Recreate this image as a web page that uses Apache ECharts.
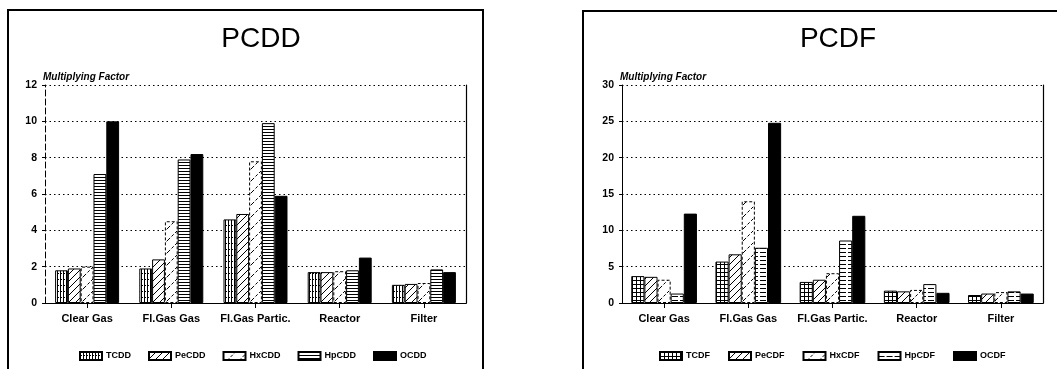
<!DOCTYPE html>
<html>
<head>
<meta charset="utf-8">
<script src="https://cdn.jsdelivr.net/npm/echarts@6/dist/echarts.min.js"></script>
<style>html,body{margin:0;padding:0;background:#fff;}#c{width:1057px;height:369px;}</style>
</head>
<body>
<div id="c"></div>
<script>
// ---- data ----
const categories = ['Clear Gas', 'Fl.Gas Gas', 'Fl.Gas Partic.', 'Reactor', 'Filter'];
const pcddNames = ['TCDD', 'PeCDD', 'HxCDD', 'HpCDD', 'OCDD'];
const pcdfNames = ['TCDF', 'PeCDF', 'HxCDF', 'HpCDF', 'OCDF'];
const tcdd  = [1.8, 1.9, 4.6, 1.7, 1.0];
const pecdd = [1.9, 2.4, 4.9, 1.7, 1.05];
const hxcdd = [2.0, 4.5, 7.8, 1.75, 1.1];
const hpcdd = [7.1, 7.9, 9.9, 1.8, 1.85];
const ocdd  = [10.0, 8.2, 5.9, 2.5, 1.7];
const tcdf  = [3.7, 5.7, 2.9, 1.7, 1.1];
const pecdf = [3.6, 6.7, 3.2, 1.6, 1.3];
const hxcdf = [3.2, 14.0, 4.1, 1.8, 1.5];
const hpcdf = [1.3, 7.6, 8.6, 2.6, 1.6];
const ocdf  = [12.3, 24.8, 12.0, 1.4, 1.3];
const pcddTicks = {min: 0, max: 12, interval: 2};
const pcdfTicks = {min: 0, max: 30, interval: 5};

// ---- patterns ----
function pat(w, h, draw) {
  const c = document.createElement('canvas');
  c.width = w; c.height = h;
  const g = c.getContext('2d');
  g.fillStyle = '#fff'; g.fillRect(0, 0, w, h);
  g.strokeStyle = '#000'; g.lineWidth = 1;
  draw(g, w, h);
  return {image: c, repeat: 'repeat'};
}
function line(g, x1, y1, x2, y2) { g.beginPath(); g.moveTo(x1, y1); g.lineTo(x2, y2); g.stroke(); }
function diag(g, w, h) { line(g, 0, h, w, 0); line(g, -2, 2, 2, -2); line(g, w - 2, h + 2, w + 2, h - 2); }

const pVert = pat(3, 6, (g, w, h) => { line(g, 0.5, 0, 0.5, h); g.fillStyle = '#000'; g.fillRect(1, 3, 1, 1); });
const pGrid = pat(4, 4, (g, w, h) => { line(g, 0.5, 0, 0.5, h); line(g, 0, 0.5, w, 0.5); });
const pDiag = pat(7, 7, (g, w, h) => { diag(g, w, h); });
const pDiagSparse = pat(12, 12, (g, w, h) => { g.setLineDash([3, 2]); diag(g, w, h); });
const pHoriz = pat(6, 3, (g, w, h) => { line(g, 0, 0.5, w, 0.5); });
const pHorizSparse = pat(8, 4, (g, w, h) => { line(g, 0, 0.5, 6, 0.5); });

const FONT = "'Liberation Sans', Arial, Helvetica, sans-serif";

function mkGridAxes(gi, ticks) {
  return {
    x: [{
      type: 'category', gridIndex: gi, data: categories,
      axisLine: {lineStyle: {color: '#000', width: 1}},
      axisTick: {show: true, alignWithLabel: true, length: 5, lineStyle: {color: '#000'}},
      axisLabel: {interval: 0, color: '#000', fontFamily: FONT, fontWeight: 'bold', fontSize: 11, margin: 10}
    }, {
      type: 'category', gridIndex: gi, position: 'top', data: categories,
      axisLine: {lineStyle: {color: '#000', width: 1, type: [10, 5]}},
      axisTick: {show: false}, axisLabel: {show: false}
    }],
    y: [{
      type: 'value', gridIndex: gi, min: ticks.min, max: ticks.max, interval: ticks.interval,
      name: 'Multiplying Factor', nameLocation: 'end', nameGap: 3,
      nameTextStyle: {align: 'left', verticalAlign: 'bottom', fontStyle: 'italic', fontWeight: 'bold',
        fontSize: 10, color: '#000', fontFamily: FONT, padding: [0, 0, 0, -2]},
      axisLine: {show: true, lineStyle: {color: '#000', width: 1, type: gi === 0 ? [6, 3] : 'solid'}},
      axisTick: {show: true, length: 3, lineStyle: {color: '#000'}},
      axisLabel: {color: '#000', fontFamily: FONT, fontWeight: 'bold', fontSize: 10.5, margin: 8},
      splitLine: {show: true, lineStyle: {color: '#000', width: 1, type: [1.5, 3]}}
    }, {
      type: 'value', gridIndex: gi, position: 'right',
      axisLine: {show: true, lineStyle: {color: '#000', width: 1.2}},
      axisTick: {show: false}, axisLabel: {show: false}, splitLine: {show: false}
    }]
  };
}
const a0 = mkGridAxes(0, pcddTicks);
const a1 = mkGridAxes(1, pcdfTicks);

const pcddStyles = [
  {color: pVert}, {color: pDiag}, {color: pDiagSparse, borderType: [3, 2]}, {color: pHoriz}, {color: '#000'}
];
const pcdfStyles = [
  {color: pGrid}, {color: pDiag}, {color: pDiagSparse, borderType: [3, 2]}, {color: pHorizSparse}, {color: '#000'}
];
const pcddData = [tcdd, pecdd, hxcdd, hpcdd, ocdd];
const pcdfData = [tcdf, pecdf, hxcdf, hpcdf, ocdf];

const series = [];
pcddNames.forEach((n, i) => series.push({
  type: 'bar', name: n, xAxisIndex: 0, yAxisIndex: 0, data: pcddData[i],
  barGap: '0%', barCategoryGap: '24%',
  itemStyle: Object.assign({borderColor: '#000', borderWidth: 1}, pcddStyles[i]),
  emphasis: {disabled: true}
}));
pcdfNames.forEach((n, i) => series.push({
  type: 'bar', name: n, xAxisIndex: 2, yAxisIndex: 2, data: pcdfData[i],
  barGap: '0%', barCategoryGap: '22%',
  itemStyle: Object.assign({borderColor: '#000', borderWidth: 1}, pcdfStyles[i]),
  emphasis: {disabled: true}
}));

const legendBase = {
  top: 346, itemWidth: 22, itemHeight: 8, icon: 'rect', itemGap: 17,
  textStyle: {color: '#000', fontFamily: FONT, fontWeight: 'bold', fontSize: 9, padding: [0, 0, 0, -1]}
};

const chart = echarts.init(document.getElementById('c'), null, {renderer: 'canvas'});
chart.setOption({
  animation: false,
  backgroundColor: '#fff',
  title: [
    {text: 'PCDD', left: 256, top: 20, textAlign: 'center',
      textStyle: {fontFamily: FONT, fontSize: 28, fontWeight: 'normal', color: '#000'}},
    {text: 'PCDF', left: 833, top: 20, textAlign: 'center',
      textStyle: {fontFamily: FONT, fontSize: 28, fontWeight: 'normal', color: '#000'}}
  ],
  grid: [
    {left: 45, top: 85, width: 421, height: 218},
    {left: 622, top: 85, width: 421, height: 218}
  ],
  xAxis: a0.x.concat(a1.x),
  yAxis: a0.y.concat(a1.y),
  legend: [
    Object.assign({}, legendBase, {left: 74, data: pcddNames}),
    Object.assign({}, legendBase, {left: 654, itemGap: 18, data: pcdfNames})
  ],
  series: series,
  graphic: [
    {type: 'rect', shape: {x: 8, y: 10, width: 475, height: 400}, style: {fill: 'none', stroke: '#000', lineWidth: 2}, silent: true},
    {type: 'rect', shape: {x: 583, y: 11, width: 500, height: 400}, style: {fill: 'none', stroke: '#000', lineWidth: 2}, silent: true}
  ]
});
</script>
</body>
</html>
